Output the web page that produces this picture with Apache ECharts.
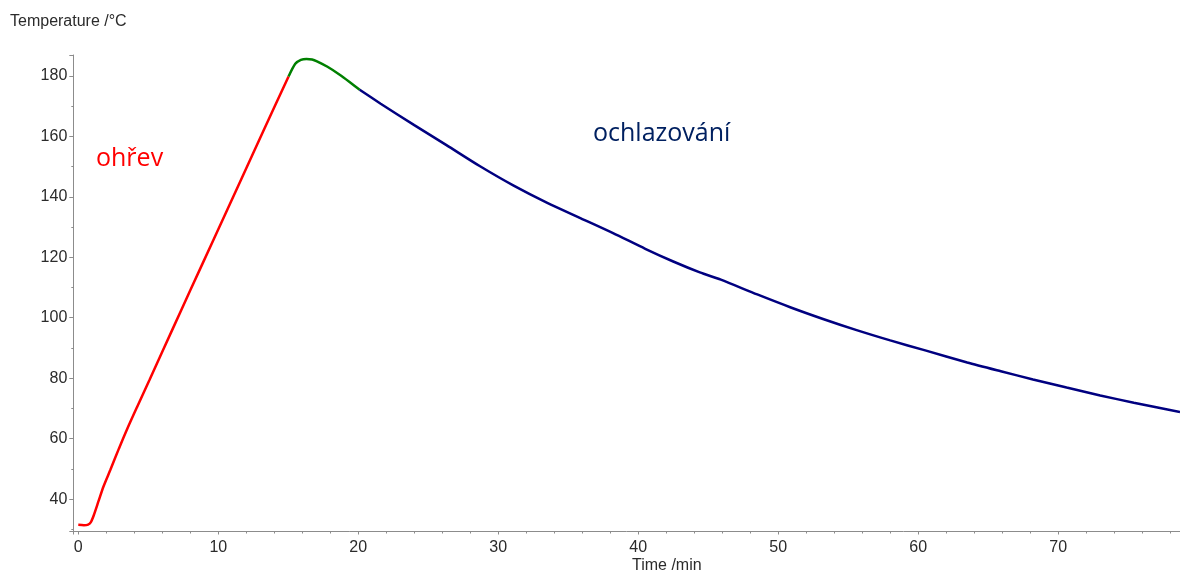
<!DOCTYPE html>
<html>
<head>
<meta charset="utf-8">
<script src="https://cdn.jsdelivr.net/npm/echarts@6/dist/echarts.min.js"></script>
<style>html,body{margin:0;padding:0;background:#fff;}#c{width:1180px;height:573px;}</style>
</head>
<body>
<div id="c"></div>
<script>
// Heating phase (red): [time /min, temperature /°C]
const heating = [[0,31.5],[0.4,31.4],[0.7,31.6],[0.9,32.4],[1.1,34.6],[1.45,39.4],[1.8,44.2],[2.3,49.8],[2.9,56.7],[3.5,63.3],[4.2,70.5],[5.1,79.6],[6.8,96.9],[8,109.1],[9.7,126.2],[11.6,145.4],[13.3,162.6],[15.02,179.8]];
// Transition (green)
const peak = [[15.02,179.8],[15.5,184.0],[15.9,185.3],[16.3,185.6],[16.7,185.4],[17.05,184.8],[17.8,183],[18.7,180.3],[19.4,177.9],[20.1,175.4]];
// Cooling phase (blue)
const cooling = [[20.1,175.4],[21.6,170.8],[24,163.7],[26.3,157.1],[28.7,150.1],[31.1,143.7],[33.5,138.0],[35.9,132.9],[38.2,128.0],[40.5,122.8],[42.5,118.6],[44.4,115.0],[45.9,112.6],[48.5,107.7],[50.9,103.4],[53.2,99.6],[55.6,95.9],[58,92.5],[60.5,89.2],[63.5,85.2],[65.9,82.3],[68.2,79.6],[70.6,76.9],[73,74.3],[75.4,71.9],[78.7,68.8]];
const yTitle = 'Temperature /°C';
const xTitle = 'Time /min';
const labelHeat = 'ohřev';
const labelCool = 'ochlazování';

const chart = echarts.init(document.getElementById('c'), null, {renderer:'canvas'});
const axisCol = '#8c8c8c';
const txtCol = '#2b2b2b';
const lineSeries = (data, color) => ({
  type:'line', data, showSymbol:false, smooth:0.25, clip:false,
  lineStyle:{color, width:2.5}, itemStyle:{color}, animation:false
});
chart.setOption({
  animation:false,
  backgroundColor:'#fff',
  grid:{left:73.3, right:0, top:55, bottom:41.5, containLabel:false},
  xAxis:{
    type:'value', min:-0.357, max:78.7, splitNumber:8,
    axisLine:{show:true, onZero:false, lineStyle:{color:axisCol, width:1}},
    axisTick:{show:true, length:3, lineStyle:{color:axisCol}},
    minorTick:{show:true, splitNumber:5, length:2, lineStyle:{color:axisCol}},
    splitLine:{show:false},
    axisLabel:{color:txtCol, fontFamily:'Liberation Sans', fontSize:16, margin:8, showMinLabel:false, showMaxLabel:false}
  },
  yAxis:{
    type:'value', min:29.3, max:186.9, splitNumber:8,
    axisLine:{show:true, onZero:false, lineStyle:{color:axisCol, width:1}},
    axisTick:{show:true, length:4, lineStyle:{color:axisCol}},
    minorTick:{show:true, splitNumber:2, length:2, lineStyle:{color:axisCol}},
    splitLine:{show:false},
    axisLabel:{color:txtCol, fontFamily:'Liberation Sans', fontSize:16, margin:6, showMinLabel:false, showMaxLabel:false}
  },
  series:[lineSeries(heating,'#ff0000'), lineSeries(peak,'#008000'), lineSeries(cooling,'#000080')],
  graphic:[
    {type:'text', left:10, top:14, style:{text:yTitle, font:'16px "Liberation Sans"', fill:txtCol}},
    {type:'text', left:632, top:558, style:{text:xTitle, font:'16px "Liberation Sans"', fill:txtCol}},
    {type:'text', left:96, top:146, style:{text:labelHeat, font:'25px "Open Sans"', fill:'#ff0000'}},
    {type:'text', left:593, top:121, style:{text:labelCool, font:'25px "Open Sans"', fill:'#002060'}}
  ]
});
</script>
</body>
</html>
